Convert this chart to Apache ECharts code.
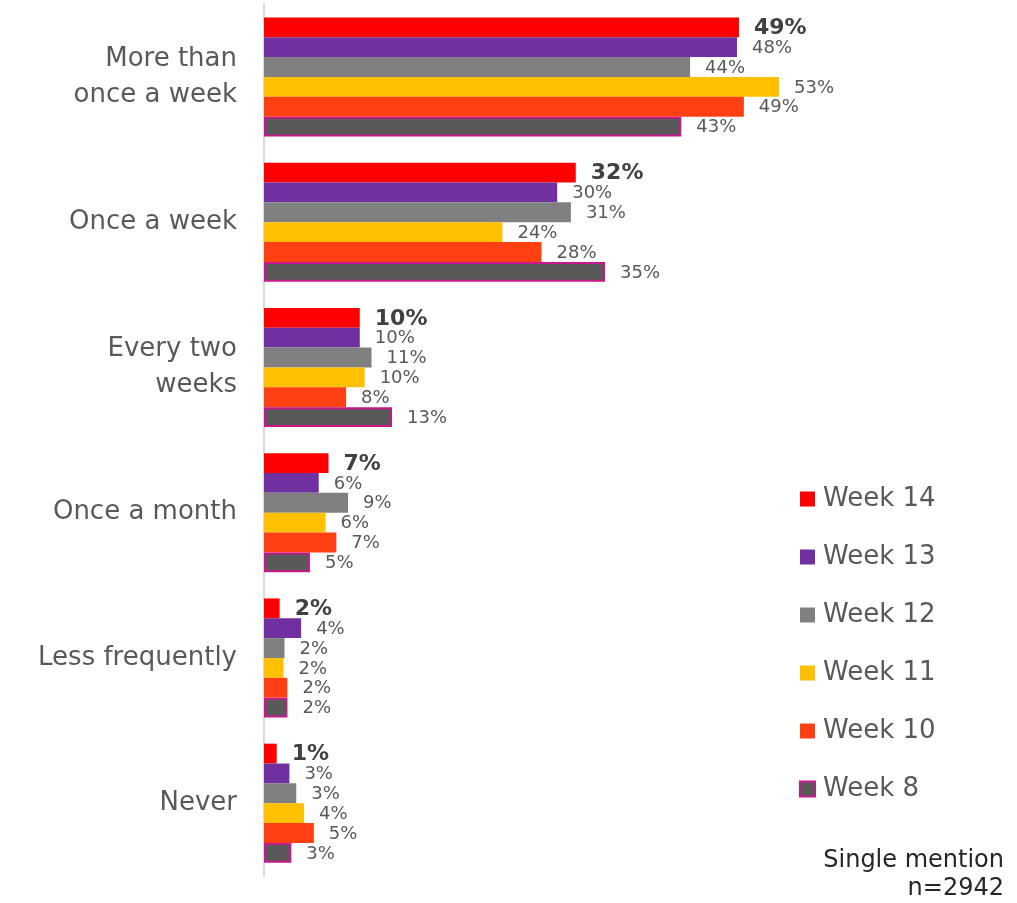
<!DOCTYPE html>
<html>
<head>
<meta charset="utf-8">
<script src="https://cdn.jsdelivr.net/npm/echarts@6/dist/echarts.min.js"></script>
<style>
  html, body { margin: 0; padding: 0; background: #ffffff; }
  #chart { width: 1017px; height: 903px; }
</style>
</head>
<body>
<div id="chart"></div>
<script>
const categories = ['More than\nonce a week', 'Once a week', 'Every two\nweeks', 'Once a month', 'Less frequently', 'Never'];
const seriesNames = ['Week 14', 'Week 13', 'Week 12', 'Week 11', 'Week 10', 'Week 8'];
const week14 = [48.6, 31.9, 9.8, 6.6, 1.6, 1.3];
const week13 = [48.4, 30.0, 9.8, 5.6, 3.8, 2.6];
const week12 = [43.6, 31.4, 11.0, 8.6, 2.1, 3.3];
const week11 = [52.7, 24.4, 10.3, 6.3, 2.0, 4.1];
const week10 = [49.1, 28.4, 8.4, 7.4, 2.4, 5.1];
const week8  = [42.7, 34.9, 13.1, 4.7, 2.4, 2.8];
const noteLines = ['Single mention', 'n=2942'];

const seriesData = [week14, week13, week12, week11, week10, week8];
const colors = ['#FF0000', '#7030A0', '#808080', '#FFC000', '#FF4013', '#595959'];
const FONT = 'DejaVu Sans';

const chart = echarts.init(document.getElementById('chart'), null, { renderer: 'canvas' });

const series = seriesNames.map((name, i) => {
  const isFirst = i === 0;
  const isLast = i === seriesNames.length - 1;
  return {
    name: name,
    type: 'bar',
    data: seriesData[i],
    barGap: '0%',
    barCategoryGap: '18%',
    itemStyle: isLast
      ? { color: colors[i], borderColor: '#C8188C', borderWidth: 2 }
      : { color: colors[i] },
    label: {
      show: true,
      position: 'right',
      distance: 15,
      offset: [0, 1],
      fontFamily: FONT,
      fontSize: isFirst ? 22 : 18,
      fontWeight: isFirst ? 'bold' : 'normal',
      color: isFirst ? '#404040' : '#595959',
      formatter: p => Math.round(p.value) + '%'
    },
    emphasis: { disabled: true }
  };
});

const noteGraphics = noteLines.map((t, i) => ({
  type: 'text',
  x: 1004,
  y: 861 + i * 28,
  style: {
    text: t,
    font: '24px "DejaVu Sans"',
    fill: '#262626',
    align: 'right',
    verticalAlign: 'middle'
  }
}));

chart.setOption({
  animation: false,
  backgroundColor: '#ffffff',
  grid: { left: 264, top: 4.35, width: 733, height: 871.5, containLabel: false },
  xAxis: { type: 'value', min: 0, max: 75, show: false },
  yAxis: {
    type: 'category',
    data: categories,
    inverse: true,
    axisLine: { show: true, lineStyle: { color: '#D9D9D9', width: 2 } },
    axisTick: { show: false },
    axisLabel: {
      margin: 27,
      fontFamily: FONT,
      fontSize: 26,
      lineHeight: 36,
      color: '#595959',
      align: 'right'
    },
    splitLine: { show: false }
  },
  legend: {
    data: seriesNames,
    orient: 'vertical',
    left: 799,
    top: 484,
    padding: 0,
    itemWidth: 15,
    itemHeight: 15,
    itemGap: 28,
    icon: 'rect',
    textStyle: { fontFamily: FONT, fontSize: 26, lineHeight: 30, color: '#595959', padding: [0, 0, 0, 3] },
    selectedMode: false
  },
  graphic: noteGraphics,
  series: series
});
</script>
</body>
</html>
